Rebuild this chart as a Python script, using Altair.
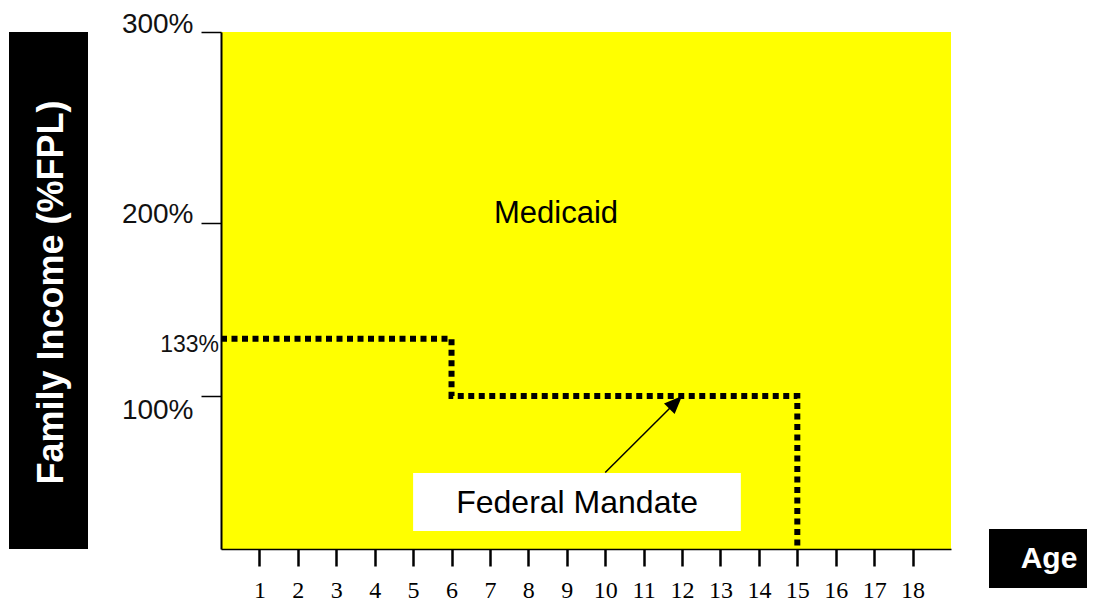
import altair as alt
import pandas as pd

# ---- data ----
age_ticks = list(range(1, 19))             # x tick labels
fpl_ticks = [100, 200, 300]                # y tick values (% FPL)
mandate_age = [0, 6, 6, 15, 15]            # federal mandate step line
mandate_fpl = [133, 133, 100, 100, 0]
medicaid_age = [0, 19]                     # Medicaid eligibility region
medicaid_fpl = [0, 300]

mandate = pd.DataFrame({"age": mandate_age, "fpl": mandate_fpl,
                        "order": list(range(len(mandate_age)))})
region = pd.DataFrame({"age": [medicaid_age[0]], "age2": [medicaid_age[1]],
                       "fpl": [medicaid_fpl[0]], "fpl2": [medicaid_fpl[1]]})

W, H = 730, 517
NARROW = '"Liberation Sans Narrow", "Arial Narrow", "Liberation Sans", sans-serif'
SANS = '"Liberation Sans", Arial, sans-serif'
SERIF = '"Liberation Serif", "Times New Roman", serif'

x_scale = alt.Scale(domain=[0, 19], nice=False, zero=False)
y_scale = alt.Scale(domain=[0, 100, 200, 300], range=[H, 364, 190.5, 0],
                    nice=False, zero=False)

x_axis = alt.Axis(values=age_ticks, title=None, grid=False, domainColor="black",
                  domainWidth=1.5, tickColor="black", tickWidth=2.5, tickSize=17,
                  labelFont=SERIF, labelFontSize=24, labelColor="black",
                  labelBaseline="alphabetic", labelPadding=31, labelFlush=False,
                  labelOverlap=False, zindex=1, orient="bottom")
y_axis = alt.Axis(values=fpl_ticks, title=None, grid=False, domainColor="black",
                  domainWidth=2, tickColor="black", tickWidth=1.5, tickSize=20,
                  labelFont=NARROW, labelFontSize=28, labelColor="#111",
                  labelExpr="datum.value + '%'", labelPadding=8,
                  labelBaseline={"condition": {"test": "datum.value === 100", "value": "top"},
                                 "value": "alphabetic"},
                  labelOverlap=False, labelFlush=False, zindex=1, orient="left")


def X(f):
    return alt.X(f, type="quantitative", scale=x_scale, axis=x_axis)


def Y(f):
    return alt.Y(f, type="quantitative", scale=y_scale, axis=y_axis)


def XD(v):
    return alt.XDatum(v, type="quantitative", scale=x_scale, axis=x_axis)


def YD(v):
    return alt.YDatum(v, type="quantitative", scale=y_scale, axis=y_axis)


# yellow Medicaid region
yellow = alt.Chart(region).mark_rect(color="#FFFF00").encode(
    x=X("age"), x2="age2:Q", y=Y("fpl"), y2="fpl2:Q",
)

# black box behind the y title
title_box = alt.Chart(region).mark_rect(color="black").encode(
    x=alt.value(-212), x2=alt.value(-133), y=Y("fpl2"), y2="fpl:Q",
)
title_txt = alt.Chart(region).mark_text(
    text="Family Income (%FPL)", angle=270, font=SANS, fontSize=36,
    fontWeight="bold", color="white", align="center", baseline="middle",
).encode(x=alt.value(-169), y=alt.value(H / 2 + 2))

lbl133 = alt.Chart(region).mark_text(
    text="133%", font=NARROW, fontSize=23, color="#111", align="right",
    baseline="middle", dx=-2, dy=6,
).encode(x=XD(0), y=YD(133))

medicaid_txt = alt.Chart(region).mark_text(
    text="Medicaid", font=SANS, fontSize=31, color="black", align="center",
    baseline="alphabetic",
).encode(x=XD(8.72), y=YD(200))

fm_box = alt.Chart(region).mark_rect(color="white").encode(
    x=XD(5.0), x2=alt.X2Datum(13.53), y=YD(49.7), y2=alt.Y2Datum(11.8),
)
fm_txt = alt.Chart(region).mark_text(
    text="Federal Mandate", font=SANS, fontSize=32, color="black", align="center",
    baseline="alphabetic",
).encode(x=XD(9.27), y=YD(23.5))

arrow_df = pd.DataFrame({"age": [10, 12], "fpl": [50, 100], "o": [0, 1]})
shaft = alt.Chart(arrow_df).mark_line(color="black", strokeWidth=1.5).encode(
    x=X("age"), y=Y("fpl"), order="o:O")
head = alt.Chart(arrow_df.iloc[[1]]).mark_point(
    shape="M0,0L1,2.4L-1,2.4Z", filled=True, size=225, angle=45, color="black",
    opacity=1, strokeWidth=0,
).encode(x=X("age"), y=Y("fpl"))

dotted = alt.Chart(mandate).mark_line(
    color="black", strokeWidth=6, strokeDash=[6, 4.5], strokeCap="butt",
).encode(x=X("age"), y=Y("fpl"), order="order:O")

age_box = alt.Chart(region).mark_rect(color="black").encode(
    x=alt.value(768), x2=alt.value(880), y=alt.value(497), y2=alt.value(556))
age_txt = alt.Chart(region).mark_text(
    text="Age", font=SANS, fontSize=30, fontWeight="bold", color="white",
    align="center", baseline="alphabetic",
).encode(x=alt.value(828), y=alt.value(536))

chart = alt.layer(
    yellow, title_box, title_txt, lbl133, medicaid_txt, fm_box, fm_txt,
    shaft, head, dotted, age_box, age_txt,
).properties(
    width=W, height=H,
    autosize=alt.AutoSizeParams(type="none"),
    padding={"left": 213, "top": 24, "right": 136, "bottom": 53},
    background="white",
).configure_view(stroke=None)

chart.save("out.html", embed_options={"renderer": "svg", "actions": False})
